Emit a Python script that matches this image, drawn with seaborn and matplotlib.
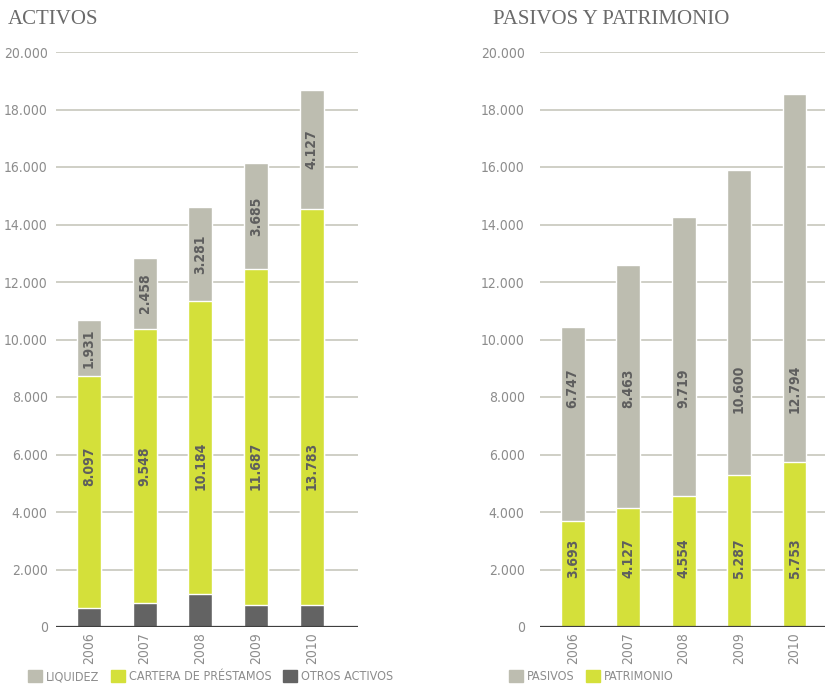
import matplotlib
matplotlib.use("Agg")
import matplotlib.pyplot as plt
from matplotlib import font_manager
from matplotlib.patches import Patch
import pandas as pd
import seaborn as sns

# data (millones)
years = ["2006", "2007", "2008", "2009", "2010"]
liquidez = [1931, 2458, 3281, 3685, 4127]
cartera = [8097, 9548, 10184, 11687, 13783]
otros_activos = [650, 830, 1150, 770, 770]   # no label in the original
pasivos = [6747, 8463, 9719, 10600, 12794]
patrimonio = [3693, 4127, 4554, 5287, 5753]

c_gray = "#bdbdb0"
c_lime = "#d4e03a"
c_dark = "#636363"
c_text = "#8c8c8c"
c_lab = "#5e5e5e"

sns.set_style("white")
# look for a narrow face, the original uses a condensed DIN-like font
narrow = [f for f in font_manager.fontManager.ttflist
          if "Narrow" in f.name or "Condensed" in f.name or f.stretch in ("condensed", "semi-condensed")]
if narrow:
    plt.rcParams["font.family"] = [narrow[0].name, "DejaVu Sans"]
    plt.rcParams["font.stretch"] = narrow[0].stretch
    fs = 10
else:
    plt.rcParams["font.family"] = ["Liberation Sans", "DejaVu Sans"]
    fs = 9


def fmt(v):
    return f"{v:,.0f}".replace(",", ".")


df = pd.DataFrame({"year": years, "liquidez": liquidez, "cartera": cartera,
                   "otros": otros_activos, "pasivos": pasivos, "patrimonio": patrimonio})
df["act_mid"] = df["otros"] + df["cartera"]
df["act_tot"] = df["act_mid"] + df["liquidez"]
df["pas_tot"] = df["patrimonio"] + df["pasivos"]

fig = plt.figure(figsize=(8.25, 6.87), dpi=100)
ax1 = fig.add_axes([56 / 825, 1 - 627 / 687, 302 / 825, 575 / 687])
ax2 = fig.add_axes([540 / 825, 1 - 627 / 687, 285 / 825, 575 / 687])


def style(ax, right, ypad):
    ax.set_ylim(0, 20000)
    ax.set_xlim(-0.59, right)
    for y in range(2000, 20001, 2000):
        ax.axhline(y, color="#cfcfc6", lw=1.4, zorder=0)
    ax.axhline(0, color="#3f3f3f", lw=1.6, zorder=3)
    sns.despine(ax=ax, left=True, bottom=True)
    ax.set_yticks(range(0, 20001, 2000))
    ax.set_yticklabels([fmt(v) for v in range(0, 20001, 2000)], color=c_text, fontsize=fs)
    ax.set_xticks(range(len(years)))
    ax.set_xticklabels(years, rotation=90, color=c_text, fontsize=fs, va="top")
    ax.tick_params(axis="y", length=0, pad=ypad)
    ax.tick_params(axis="x", length=0, pad=4)
    ax.set_xlabel("")
    ax.set_ylabel("")
    ax.grid(False)


# ACTIVOS: stacked by overdrawing cumulative totals
sns.barplot(data=df, x="year", y="act_tot", color=c_gray, width=0.43, saturation=1, ax=ax1, zorder=2)
sns.barplot(data=df, x="year", y="act_mid", color=c_lime, width=0.43, saturation=1, ax=ax1, zorder=2)
sns.barplot(data=df, x="year", y="otros", color=c_dark, width=0.43, saturation=1, ax=ax1, zorder=2)
style(ax1, 4.83, 6)
for i, r in df.iterrows():
    ax1.text(i, r["act_mid"] + r["liquidez"] / 2, fmt(r["liquidez"]), rotation=90, ha="center",
             va="center", color=c_lab, fontsize=fs, fontweight="bold", zorder=4)
    ax1.text(i, 5600, fmt(r["cartera"]), rotation=90, ha="center", va="center",
             color=c_lab, fontsize=fs, fontweight="bold", zorder=4)

# PASIVOS Y PATRIMONIO
sns.barplot(data=df, x="year", y="pas_tot", color=c_gray, width=0.43, saturation=1, ax=ax2, zorder=2)
sns.barplot(data=df, x="year", y="patrimonio", color=c_lime, width=0.43, saturation=1, ax=ax2, zorder=2)
style(ax2, 4.55, 11)
for i, r in df.iterrows():
    ax2.text(i, 8300, fmt(r["pasivos"]), rotation=90, ha="center", va="center",
             color=c_lab, fontsize=fs, fontweight="bold", zorder=4)
    ax2.text(i, 2400, fmt(r["patrimonio"]), rotation=90, ha="center", va="center",
             color=c_lab, fontsize=fs, fontweight="bold", zorder=4)

tfont = dict(family=["Liberation Serif", "DejaVu Serif"], fontsize=15, color="#6a6a6a", va="center")
fig.text(8 / 825, 1 - 20 / 687, "ACTIVOS", **tfont)
fig.text(493 / 825, 1 - 20 / 687, "PASIVOS Y PATRIMONIO", **tfont)

legkw = dict(loc="lower left", frameon=False, handlelength=1.1, handleheight=1.1,
             handletextpad=0.35, columnspacing=0.9, labelcolor=c_text, fontsize=fs - 1,
             borderaxespad=0, borderpad=0)
fig.legend([Patch(color=c_gray), Patch(color=c_lime), Patch(color=c_dark)],
           ["LIQUIDEZ", "CARTERA DE PRÉSTAMOS", "OTROS ACTIVOS"], ncol=3,
           bbox_to_anchor=(28 / 825, 4 / 687), **legkw)
fig.legend([Patch(color=c_gray), Patch(color=c_lime)], ["PASIVOS", "PATRIMONIO"], ncol=2,
           bbox_to_anchor=(509 / 825, 4 / 687), **legkw)

fig.savefig("out.png", dpi=100)
